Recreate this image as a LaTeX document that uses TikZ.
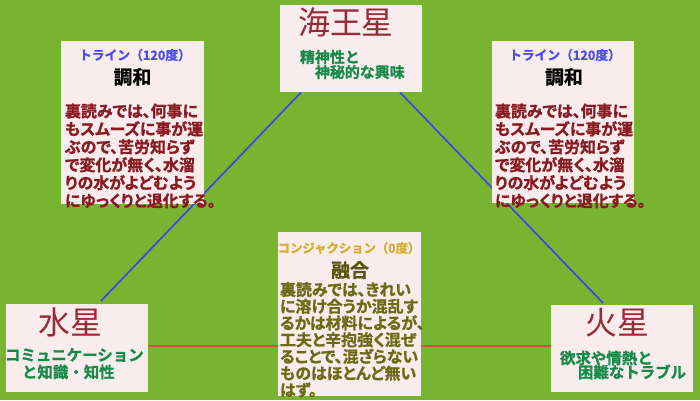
\documentclass[tikz,border=0pt]{standalone}
\usepackage{fontspec}
\usetikzlibrary{calc}
\newfontfamily\jp{Noto Sans CJK JP}[BoldFont={Noto Sans CJK JP Bold}, BoldFeatures={FakeBold=1.2}]
\newfontfamily\jpp{Noto Sans CJK JP}[BoldFont={Noto Sans CJK JP Bold}, RawFeature=+palt, BoldFeatures={FakeBold=1.2}]
\definecolor{bgc}{HTML}{77B530}
\definecolor{boxc}{HTML}{F8ECEC}
\definecolor{headblue}{HTML}{4B4BF2}
\definecolor{dred}{HTML}{8A1A22}
\definecolor{planetc}{HTML}{962A36}
\definecolor{greenc}{HTML}{178A4A}
\definecolor{goldc}{HTML}{D6AC2C}
\definecolor{olivec}{HTML}{6E6914}
\definecolor{bluel}{HTML}{3F3FF2}
\definecolor{redl}{HTML}{E84545}
\tikzset{
  panel/.style={fill=boxc, draw=none, inner sep=0, anchor=north west},
  txt/.style={inner sep=0, outer sep=0},
  planet/.style={txt, text=planetc, font=\jp\fontsize{32}{32}\selectfont},
  sub/.style={txt, anchor=west, text=greenc, font=\jp\bfseries\fontsize{15}{15}\selectfont},
  trinehead/.style={txt, text=headblue, font=\jp\bfseries\fontsize{12.8}{12.8}\selectfont},
  title/.style={txt, font=\jp\bfseries\fontsize{19}{19}\selectfont},
  body/.style={txt, anchor=north west, align=left, font=\jpp\bfseries\fontsize{16}{18}\selectfont},
  blueline/.style={draw=bluel, line width=1.6bp},
  redline/.style={draw=redl, line width=1.6bp},
}
\begin{document}
\begin{tikzpicture}[x=1bp,y=-1bp]
\useasboundingbox (0,0) rectangle (700,400);
\fill[bgc] (0,0) rectangle (700,400);
% planet boxes
\node[panel, minimum width=142bp, minimum height=87bp] (nep) at (280,5) {};
\node[panel, minimum width=142bp, minimum height=88bp] (merc) at (6,304) {};
\node[panel, minimum width=142bp, minimum height=87bp] (mars) at (551,305) {};
% connectors
\coordinate (nepL) at ($(nep.south west)+(21,0)$);
\coordinate (nepR) at ($(nep.south west)+(120,0)$);
\coordinate (mercT) at ($(merc.north west)+(95,-3)$);
\coordinate (marsT) at ($(mars.north west)+(52,-2)$);
\coordinate (mercE) at ($(merc.north east)+(0,42)$);
\coordinate (marsW) at ($(mars.north west)+(0,41)$);
\draw[blueline] (nepL) -- (mercT);
\draw[blueline] (nepR) -- (marsT);
\draw[redline] (mercE) -- (marsW);
% aspect boxes
\node[panel, minimum width=143bp, minimum height=163bp] (trL) at (61,41) {};
\node[panel, minimum width=142bp, minimum height=162bp] (trR) at (492,41) {};
\node[panel, minimum width=143bp, minimum height=164bp] (conj) at (278,232) {};
% Neptune
\node[planet] (nepName) at (346,22) {海王星};
\node[sub] (nepS1) at (300,57) {精神性と};
\node[sub] (nepS2) at (315,72) {神秘的な興味};
% Mercury
\node[planet] (mercName) at (70,322) {水星};
\node[sub, font=\jp\bfseries\fontsize{15.5}{15.5}\selectfont] (mercS1) at (5,355) {コミュニケーション};
\node[sub, font=\jp\bfseries\fontsize{15.5}{15.5}\selectfont] (mercS2) at (22,372) {と知識・知性};
% Mars
\node[planet] (marsName) at (617,323) {火星};
\node[sub, font=\jp\bfseries\fontsize{15.5}{15.5}\selectfont] (marsS1) at (560,358) {欲求や情熱と};
\node[sub, font=\jp\bfseries\fontsize{15.5}{15.5}\selectfont] (marsS2) at (578,372) {困難なトラブル};
% left trine
\node[trinehead] (trLh) at (135,55) {トライン（120度）};
\node[title, text=black] (trLt) at (132.5,77) {調和};
\node[body, text=dred] (trLb) at (65,103.5) {裏読みでは、何事に\\もスムーズに事が運\\ぶので、苦労知らず\\で変化が無く、水溜\\りの水がよどむよう\\にゆっくりと退化する。};
% right trine
\node[trinehead] (trRh) at (565,55) {トライン（120度）};
\node[title, text=black] (trRt) at (564,77) {調和};
\node[body, text=dred] (trRb) at (495,103.5) {裏読みでは、何事に\\もスムーズに事が運\\ぶので、苦労知らず\\で変化が無く、水溜\\りの水がよどむよう\\にゆっくりと退化する。};
% conjunction
\node[trinehead, text=goldc, font=\jp\bfseries\fontsize{12.4}{12.4}\selectfont] (conjh) at (349,248) {コンジャクション（0度）};
\node[title, text=olivec!80!black] (conjt) at (350,270) {融合};
\node[body, text=olivec, font=\jpp\bfseries\fontsize{16}{16.8}\selectfont] (conjb) at (280,282) {裏読みでは、きれい\\に溶け合うか混乱す\\るかは材料によるが、\\工夫と辛抱強く混ぜ\\ることで、混ざらない\\ものはほとんど無い\\はず。};
\end{tikzpicture}
\end{document}
